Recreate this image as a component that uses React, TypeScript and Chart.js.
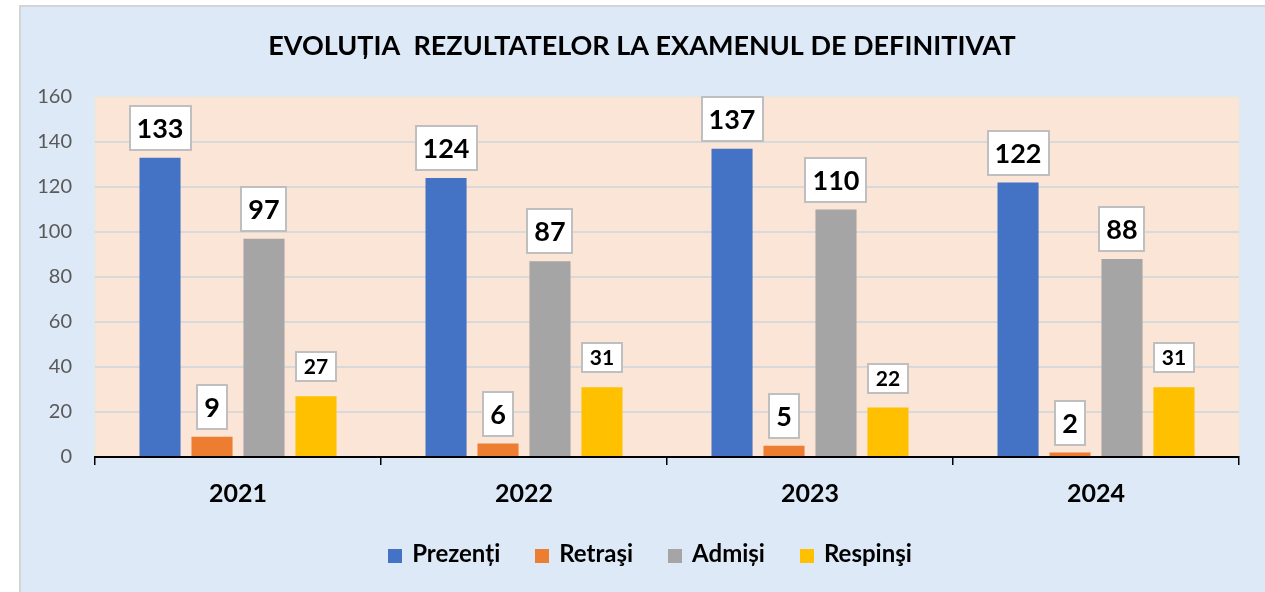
import React, { useEffect, useRef } from "react";
import { Chart, registerables } from "chart.js";

Chart.register(...registerables);

const titleText = "EVOLUȚIA  REZULTATELOR LA EXAMENUL DE DEFINITIVAT";
const years = ["2021", "2022", "2023", "2024"];
const seriesNames = ["Prezenți", "Retraşi", "Admiși", "Respinşi"];
const prezenti = [133, 124, 137, 122];
const retrasi = [9, 6, 5, 2];
const admisi = [97, 87, 110, 88];
const respinsi = [27, 31, 22, 31];
const seriesColors = ["#4472C4", "#ED7D31", "#A5A5A5", "#FFC000"];
const yMin = 0;
const yMax = 160;
const yStep = 20;

const FONT = "Lato, 'Open Sans', sans-serif";

const bgPlugin = {
  id: "bgPlugin",
  beforeDraw(chart: any) {
    const { ctx, width, height, chartArea } = chart;
    ctx.save();
    ctx.fillStyle = "#ffffff";
    ctx.fillRect(0, 0, width, height);
    ctx.fillStyle = "#dde9f6";
    ctx.fillRect(19, 5, width - 19, height - 5);
    ctx.strokeStyle = "#d4d4d4";
    ctx.lineWidth = 2;
    ctx.beginPath();
    ctx.moveTo(20, height);
    ctx.lineTo(20, 6);
    ctx.lineTo(width, 6);
    ctx.stroke();
    ctx.fillStyle = "#FBE5D6";
    ctx.fillRect(chartArea.left, chartArea.top, chartArea.right - chartArea.left, chartArea.bottom - chartArea.top);
    ctx.strokeStyle = "#fbe6c4";
    ctx.lineWidth = 1;
    ctx.strokeRect(chartArea.left + 0.5, chartArea.top + 0.5, chartArea.right - chartArea.left - 1, chartArea.bottom - chartArea.top);
    ctx.restore();
  },
};

const labelPlugin = {
  id: "labelPlugin",
  afterDatasetsDraw(chart: any) {
    const ctx = chart.ctx;
    ctx.save();
    chart.data.datasets.forEach((ds: any, i: number) => {
      const meta = chart.getDatasetMeta(i);
      const small = i === 3;
      const fs = small ? 21 : 27;
      const h = small ? 29 : 44;
      const padX = small ? 8 : 7;
      const gap = small ? 15 : 8;
      ctx.font = `bold ${fs}px ${FONT}`;
      meta.data.forEach((el: any, j: number) => {
        const txt = String(ds.data[j]);
        const w = Math.round(ctx.measureText(txt).width + padX * 2);
        const x = Math.round(el.x - w / 2);
        const y = Math.round(el.y - gap - h);
        ctx.fillStyle = "#ffffff";
        ctx.fillRect(x, y, w, h);
        ctx.strokeStyle = "#bfbfbf";
        ctx.lineWidth = 2;
        ctx.strokeRect(x, y, w, h);
        ctx.fillStyle = "#000000";
        ctx.textAlign = "center";
        ctx.textBaseline = "alphabetic";
        ctx.fillText(txt, el.x, y + h / 2 + fs * 0.36);
      });
    });
    ctx.restore();
  },
};

const decorPlugin = {
  id: "decorPlugin",
  afterDraw(chart: any) {
    const ctx = chart.ctx;
    ctx.save();
    // title
    ctx.font = `bold 27px ${FONT}`;
    ctx.fillStyle = "#000000";
    ctx.textAlign = "center";
    ctx.textBaseline = "alphabetic";
    ctx.fillText(titleText, 642, 55);
    // legend
    ctx.font = `bold 24px ${FONT}`;
    const box = 14;
    const boxGap = 10;
    const itemGap = 35;
    const widths = chart.data.datasets.map((ds: any) => box + boxGap + ctx.measureText(ds.label).width);
    const total = widths.reduce((a: number, b: number) => a + b, 0) + itemGap * (widths.length - 1);
    let x = 650 - total / 2;
    chart.data.datasets.forEach((ds: any, i: number) => {
      ctx.fillStyle = ds.backgroundColor;
      ctx.fillRect(Math.round(x), 549, box, box);
      ctx.fillStyle = "#000000";
      ctx.textAlign = "left";
      ctx.fillText(ds.label, x + box + boxGap, 562);
      x += widths[i] + itemGap;
    });
    ctx.restore();
  },
};

export default function App() {
  const ref = useRef<HTMLCanvasElement | null>(null);
  useEffect(() => {
    let chart: Chart | null = null;
    let cancelled = false;
    const make = () => {
      if (cancelled || !ref.current) return;
      const seriesData = [prezenti, retrasi, admisi, respinsi];
      chart = new Chart(ref.current, {
        type: "bar",
        data: {
          labels: years,
          datasets: seriesNames.map((name, i) => ({
            label: name,
            data: seriesData[i],
            backgroundColor: seriesColors[i],
            borderWidth: 0,
            categoryPercentage: 0.727,
            barPercentage: 0.79,
          })),
        },
        options: {
          responsive: false,
          animation: false,
          layout: { padding: { top: 97, right: 26, left: 0, bottom: 0 } },
          plugins: {
            legend: { display: false },
            title: { display: false },
            tooltip: { enabled: false },
          },
          scales: {
            x: {
              afterFit: (s: any) => {
                s.height = 135;
              },
              grid: {
                drawOnChartArea: false,
                drawTicks: true,
                tickLength: 8,
                color: "#000000",
                lineWidth: 1.5,
                offset: true,
              },
              border: { display: true, color: "#000000", width: 2 },
              ticks: {
                color: "#000000",
                font: { family: FONT, size: 25, weight: "bold" },
                padding: 14,
              },
            },
            y: {
              min: yMin,
              max: yMax,
              afterFit: (s: any) => {
                s.width = 95;
              },
              grid: {
                drawTicks: false,
                lineWidth: 2,
                color: (c: any) =>
                  c.tick && (c.tick.value === yMin || c.tick.value === yMax) ? "rgba(0,0,0,0)" : "#d9d9d9",
              },
              border: { display: false },
              ticks: {
                stepSize: yStep,
                color: "#595959",
                font: { family: FONT, size: 20 },
                padding: 23,
              },
            },
          },
        },
        plugins: [bgPlugin, labelPlugin, decorPlugin],
      } as any);
    };
    const fontsApi: any = (document as any).fonts;
    if (fontsApi && fontsApi.load) {
      Promise.all([fontsApi.load(`bold 20px Lato`), fontsApi.load(`20px Lato`)]).then(make, make);
    } else {
      make();
    }
    return () => {
      cancelled = true;
      if (chart) chart.destroy();
    };
  }, []);
  return (
    <div style={{ position: "fixed", left: 0, top: 0, width: 1265, height: 592 }}>
      <canvas ref={ref} width={1265} height={592} style={{ display: "block" }} />
    </div>
  );
}
